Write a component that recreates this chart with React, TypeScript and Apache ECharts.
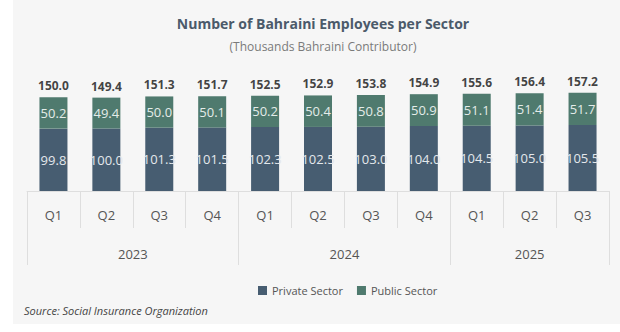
import React, { useEffect, useRef } from "react";
import * as echarts from "echarts";

const quarters = ["Q1", "Q2", "Q3", "Q4", "Q1", "Q2", "Q3", "Q4", "Q1", "Q2", "Q3"];
const years = ["2023", "2024", "2025"];
const quartersPerYear = [4, 4, 3];
const privateSector = [99.8, 100.0, 101.3, 101.5, 102.3, 102.5, 103.0, 104.0, 104.5, 105.0, 105.5];
const publicSector = [50.2, 49.4, 50.0, 50.1, 50.2, 50.4, 50.8, 50.9, 51.1, 51.4, 51.7];
const totals = [150.0, 149.4, 151.3, 151.7, 152.5, 152.9, 153.8, 154.9, 155.6, 156.4, 157.2];

const PRIVATE_COLOR = "#475d71";
const PUBLIC_COLOR = "#4f7a6e";
const FONT = "'Open Sans', 'Noto Sans', sans-serif";

export default function App() {
  const ref = useRef<HTMLDivElement>(null);

  useEffect(() => {
    if (!ref.current) return;
    const chart = echarts.init(ref.current, null, { renderer: "svg" });

    // Build year axis: half-quarter points (boundaryGap false)
    const yearAxisData: string[] = new Array(quarters.length * 2 + 1).fill("");
    const boundaries = new Set<number>();
    let start = 0;
    years.forEach((y, i) => {
      boundaries.add(start * 2);
      yearAxisData[start * 2 + quartersPerYear[i]] = y;
      start += quartersPerYear[i];
    });
    boundaries.add(start * 2);

    chart.setOption({
      animation: false,
      textStyle: { fontFamily: FONT },
      graphic: [
        {
          type: "rect",
          shape: { x: 13, y: 0, width: 607, height: 324 },
          style: { fill: "#f6f6f6" },
          z: -10,
          silent: true,
        },
        {
          type: "text",
          left: 24,
          top: 305,
          style: {
            text: "Source: Social Insurance Organization",
            fontSize: 11,
            fontStyle: "italic",
            fill: "#444",
            fontFamily: FONT,
          },
        },
      ],
      title: [
        {
          text: "Number of Bahraini Employees per Sector",
          left: 318,
          textAlign: "center",
          top: 11,
          textStyle: { fontSize: 14, fontWeight: "bold", color: "#4b5a6a", fontFamily: FONT },
        },
        {
          text: "(Thousands Bahraini Contributor)",
          left: 318,
          textAlign: "center",
          top: 35,
          textStyle: { fontSize: 12, fontWeight: "normal", color: "#7a7a7a", fontFamily: FONT },
        },
      ],
      legend: {
        data: ["Private Sector", "Public Sector"],
        left: 253,
        top: 280,
        icon: "rect",
        itemWidth: 9,
        itemHeight: 9,
        itemGap: 14,
        textStyle: { fontSize: 11, color: "#555", fontFamily: FONT },
      },
      grid: { left: 27, right: 11, top: 66, bottom: 141 },
      xAxis: [
        {
          type: "category",
          data: quarters,
          axisLine: { show: true, lineStyle: { color: "#dedede" } },
          axisTick: { show: true, interval: 0, length: 37, lineStyle: { color: "#dedede" } },
          axisLabel: { interval: 0, margin: 17, fontSize: 13, color: "#555", fontFamily: FONT },
        },
        {
          type: "category",
          position: "bottom",
          boundaryGap: false,
          data: yearAxisData,
          axisLine: { show: false },
          axisTick: {
            show: true,
            interval: (i: number) => boundaries.has(i),
            length: 74,
            lineStyle: { color: "#dedede" },
          },
          axisLabel: { interval: 0, margin: 56, fontSize: 13, color: "#555", fontFamily: FONT },
        },
      ],
      yAxis: { type: "value", min: 0, max: 200, show: false, splitLine: { show: false } },
      series: [
        {
          name: "Private Sector",
          type: "bar",
          stack: "total",
          barWidth: 28,
          data: privateSector,
          itemStyle: { color: PRIVATE_COLOR },
          label: {
            show: true,
            position: "inside",
            color: "#e4e8ec",
            fontSize: 13,
            fontFamily: FONT,
            formatter: (p: any) => Number(p.value).toFixed(1),
          },
        },
        {
          name: "Public Sector",
          type: "bar",
          stack: "total",
          barWidth: 28,
          data: publicSector,
          itemStyle: { color: PUBLIC_COLOR },
          label: {
            show: true,
            position: "inside",
            color: "#e4ece9",
            fontSize: 13,
            fontFamily: FONT,
            formatter: (p: any) => Number(p.value).toFixed(1),
          },
        },
        {
          name: "Total",
          type: "scatter",
          data: totals,
          symbolSize: 1,
          itemStyle: { color: "rgba(0,0,0,0)" },
          label: {
            show: true,
            position: "top",
            distance: 5,
            color: "#111",
            fontSize: 12,
            fontWeight: "bold",
            fontFamily: FONT,
            formatter: (p: any) => Number(p.value).toFixed(1),
          },
          z: 5,
        },
      ],
    });

    return () => chart.dispose();
  }, []);

  return (
    <div
      ref={ref}
      style={{ position: "fixed", left: 0, top: 0, width: 620, height: 332, background: "#fff" }}
    />
  );
}
